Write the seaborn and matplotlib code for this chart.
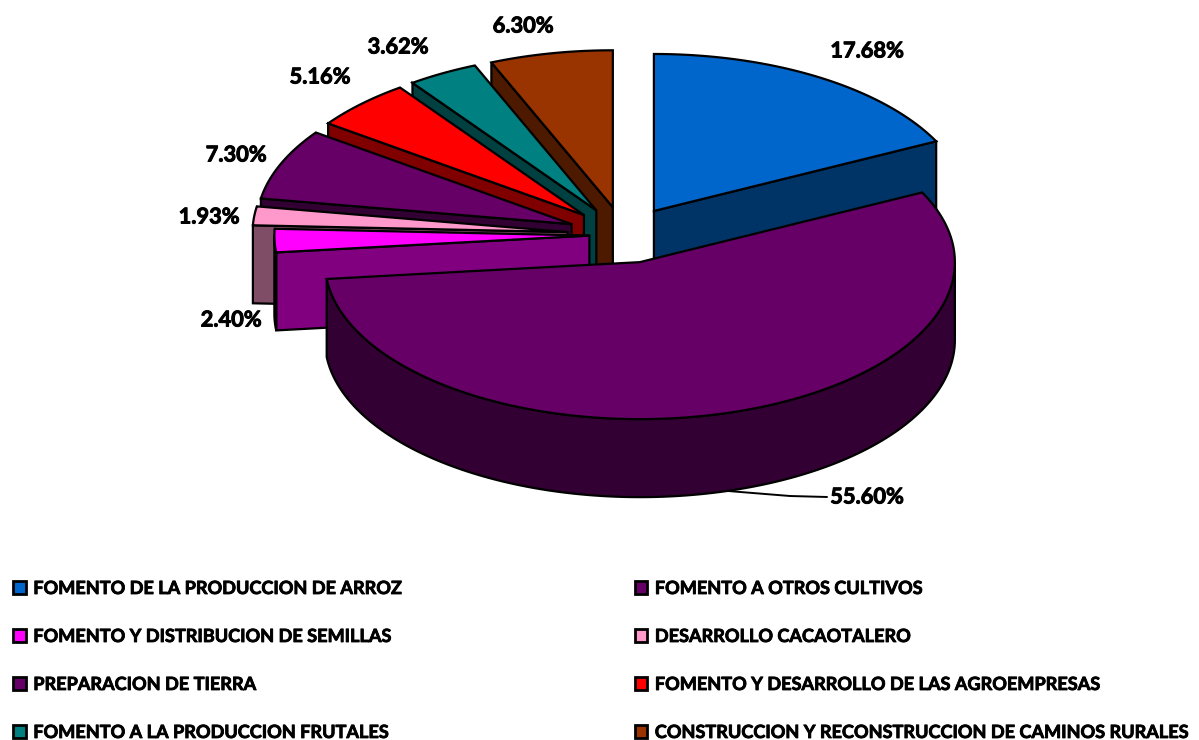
import numpy as np
import matplotlib
matplotlib.use("Agg")
import matplotlib.pyplot as plt
import matplotlib.patheffects as pe
from matplotlib.patches import Patch
import seaborn as sns

categories = ["FOMENTO DE LA PRODUCCION DE ARROZ", "FOMENTO A OTROS CULTIVOS",
              "FOMENTO Y DISTRIBUCION DE SEMILLAS", "DESARROLLO CACAOTALERO",
              "PREPARACION DE TIERRA", "FOMENTO Y DESARROLLO DE LAS AGROEMPRESAS",
              "FOMENTO A LA PRODUCCION FRUTALES", "CONSTRUCCION Y RECONSTRUCCION DE CAMINOS RURALES"]
values = [17.68, 55.60, 2.40, 1.93, 7.30, 5.16, 3.62, 6.30]
top_colors = ["#0066CC", "#660066", "#FF00FF", "#FF99CC", "#660066", "#FF0000", "#008080", "#993300"]
side_colors = ["#003366", "#330033", "#800080", "#804D66", "#330033", "#800000", "#004040", "#4D1A00"]
explode = [0.18, 0.18, 0.11, 0.18, 0.18, 0.18, 0.18, 0.18]
label_xy = [(867, 51), (867, 497), (231, 320), (209, 217), (236, 155), (320, 77), (398, 47), (523, 26)]
draw_order = [0, 7, 6, 5, 4, 3, 2, 1]

CX, CY, RX, RY, DEPTH = 624, 235, 315, 157, 78
LW = 1.6

sns.set_theme(style="white")
plt.rcParams["font.family"] = ["Lato", "DejaVu Sans"]
palette = sns.color_palette(top_colors)
shade = sns.color_palette(side_colors)

fig = plt.figure(figsize=(11.99, 7.40), dpi=100)
ax = fig.add_axes([0, 0, 1, 1])
ax.set_xlim(0, 1199)
ax.set_ylim(740, 0)
ax.axis("off")

edges = np.concatenate([[0], np.cumsum(values)]) / sum(values) * 2 * np.pi


def face(xs, ys, color, z):
    ax.fill(xs, ys, facecolor=color, edgecolor="black", linewidth=LW, joinstyle="miter", zorder=z)


for rank, i in enumerate(draw_order):
    a, b = edges[i], edges[i + 1]
    mid = (a + b) / 2
    ax0 = CX + explode[i] * RX * np.sin(mid)
    ay0 = CY - explode[i] * RY * np.cos(mid)
    z = 2 + rank * 3
    px = lambda t: ax0 + RX * np.sin(t)
    py = lambda t: ay0 - RY * np.cos(t)
    # visible radial side: the end edge on the right half, the start edge on the left half
    for t, show in ((a, a >= np.pi), (b, b < np.pi)):
        if show:
            face([ax0, px(t), px(t), ax0], [ay0, py(t), py(t) + DEPTH, ay0 + DEPTH], shade[i], z)
    # outer wall, front half only
    lo, hi = max(a, np.pi / 2), min(b, 3 * np.pi / 2)
    if hi > lo:
        t = np.linspace(lo, hi, 200)
        face(np.r_[px(t), px(t)[::-1]], np.r_[py(t), (py(t) + DEPTH)[::-1]], shade[i], z + 1)
    # top face
    t = np.linspace(a, b, 200)
    face(np.r_[ax0, px(t)], np.r_[ay0, py(t)], palette[i], z + 2)

thick = [pe.withStroke(linewidth=0.7, foreground="black")]
for v, (lx, ly) in zip(values, label_xy):
    ax.text(lx, ly, f"{v:.2f}%", ha="center", va="center", fontsize=15.7, fontweight="bold",
            color="black", zorder=50, path_effects=thick)
ax.plot([728, 790, 827], [491, 496, 497], color="black", linewidth=1.4, zorder=40)

order = [0, 2, 4, 6, 1, 3, 5, 7]
handles = [Patch(facecolor=palette[i], edgecolor="black", linewidth=2, label=categories[i]) for i in order]
leg = ax.legend(handles=handles, ncol=2, frameon=False, loc="upper left",
                bbox_to_anchor=(13 / 1199, 1 - 580 / 740), borderaxespad=0, borderpad=0,
                prop={"family": "Lato", "weight": "bold", "size": 13.05},
                handlelength=0.7, handleheight=0.7, handletextpad=0.42,
                labelspacing=1.71, columnspacing=12.8, labelcolor="black")
leg.set_zorder(60)
for txt in leg.get_texts():
    txt.set_path_effects([pe.withStroke(linewidth=0.6, foreground="black")])
fig.savefig("out.png", dpi=100, facecolor="white")
